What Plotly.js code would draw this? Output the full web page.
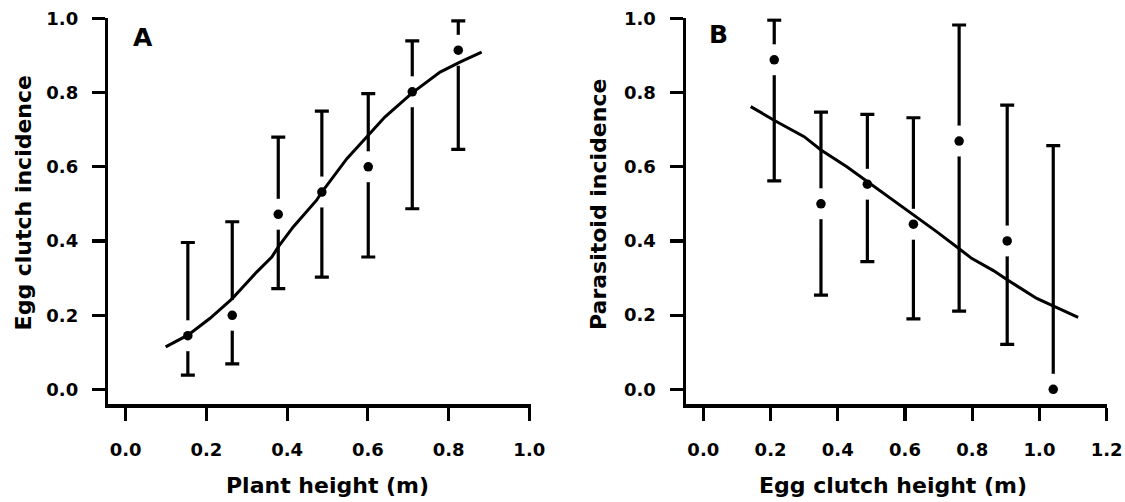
<!DOCTYPE html>
<html>
<head>
<meta charset="utf-8">
<script src="https://cdn.plot.ly/plotly-3.0.1.min.js"></script>
<style>html,body{margin:0;padding:0;background:#fff;}#chart{width:1125px;height:502px;}</style>
</head>
<body>
<div id="chart"></div>
<script>
// ---- Panel A: egg clutch incidence vs plant height ----
const plantHeight   = [0.154, 0.264, 0.378, 0.486, 0.601, 0.710, 0.824];
const clutchInc     = [0.145, 0.200, 0.472, 0.532, 0.600, 0.802, 0.914];
const clutchUpper   = [0.396, 0.452, 0.680, 0.750, 0.797, 0.939, 0.993];
const clutchLower   = [0.039, 0.069, 0.272, 0.303, 0.357, 0.487, 0.647];
const fitAx = [0.099,0.155,0.209,0.264,0.291,0.325,0.362,0.378,0.415,0.452,0.473,0.486,0.548,0.601,0.642,0.710,0.779,0.828,0.882];
const fitAy = [0.115,0.147,0.192,0.245,0.277,0.317,0.357,0.384,0.438,0.483,0.510,0.532,0.622,0.685,0.734,0.799,0.855,0.882,0.909];

// ---- Panel B: parasitoid incidence vs egg clutch height ----
const clutchHeight  = [0.211, 0.350, 0.488, 0.625, 0.761, 0.904, 1.041];
const parasitInc    = [0.888, 0.500, 0.553, 0.445, 0.669, 0.400, 0.000];
const parasitUpper  = [0.995, 0.747, 0.741, 0.732, 0.982, 0.766, 0.657];
const parasitLower  = [0.562, 0.254, 0.344, 0.190, 0.211, 0.121, 0.000];
const fitBx = [0.141,0.213,0.300,0.350,0.427,0.488,0.565,0.625,0.694,0.764,0.798,0.863,0.904,0.992,1.041,1.115];
const fitBy = [0.762,0.724,0.681,0.645,0.600,0.560,0.510,0.470,0.425,0.377,0.353,0.320,0.295,0.245,0.225,0.194];

const ticksA_x = [0, 0.2, 0.4, 0.6, 0.8, 1.0];
const ticksB_x = [0, 0.2, 0.4, 0.6, 0.8, 1.0, 1.2];
const ticksY   = [0, 0.2, 0.4, 0.6, 0.8, 1.0];

const W = 1125, H = 502;
const FONT = 'DejaVu Sans, Arial, sans-serif';

function panelTraces(xs, ys, up, lo, fx, fy, xa, ya) {
  return [
    { // error bars
      type: 'scatter', mode: 'markers', x: xs, y: ys, xaxis: xa, yaxis: ya,
      marker: {color: 'rgba(0,0,0,0)', size: 1},
      error_y: {type: 'data', symmetric: false,
        array: up.map((u, i) => u - ys[i]),
        arrayminus: lo.map((l, i) => ys[i] - l),
        color: '#000', thickness: 3.2, width: 7},
      cliponaxis: false, hoverinfo: 'skip'
    },
    { // white gap around points
      type: 'scatter', mode: 'markers', x: xs, y: ys, xaxis: xa, yaxis: ya,
      marker: {color: '#fff', size: 31, symbol: 'circle'},
      cliponaxis: false, hoverinfo: 'skip'
    },
    { // fitted curve
      type: 'scatter', mode: 'lines', x: fx, y: fy, xaxis: xa, yaxis: ya,
      line: {color: '#000', width: 3}, cliponaxis: false, hoverinfo: 'skip'
    },
    { // observed points
      type: 'scatter', mode: 'markers', x: xs, y: ys, xaxis: xa, yaxis: ya,
      marker: {color: '#000', size: 9.5}, cliponaxis: false
    }
  ];
}

const data = [
  ...panelTraces(plantHeight, clutchInc, clutchUpper, clutchLower, fitAx, fitAy, 'x', 'y'),
  ...panelTraces(clutchHeight, parasitInc, parasitUpper, parasitLower, fitBx, fitBy, 'x2', 'y2')
];

const common = {
  showgrid: false, zeroline: false, showline: true, linecolor: '#000', linewidth: 3.5,
  ticks: 'outside', ticklen: 13, tickwidth: 3.2, tickcolor: '#000',
  tickmode: 'array', tickformat: '.1f',
  tickfont: {family: FONT, size: 18, color: '#000', weight: 'bold'},
  fixedrange: true
};

const yDom = [1 - 404 / H, 1 - 18.3 / H];

const layout = {
  width: W, height: H,
  margin: {l: 0, r: 0, t: 0, b: 0, pad: 0},
  paper_bgcolor: '#fff', plot_bgcolor: '#fff',
  showlegend: false,
  xaxis: Object.assign({}, common, {domain: [108.3 / W, 531 / W], range: [-0.0431, 1.0042],
    tickvals: ticksA_x, anchor: 'y', ticklabelstandoff: 14}),
  yaxis: Object.assign({}, common, {domain: yDom, range: [-0.039, 1.0],
    tickvals: ticksY, anchor: 'x', ticklabelstandoff: 10}),
  xaxis2: Object.assign({}, common, {domain: [686 / W, 1106.7 / W], range: [-0.0515, 1.2],
    tickvals: ticksB_x, anchor: 'y2', ticklabelstandoff: 14}),
  yaxis2: Object.assign({}, common, {domain: yDom, range: [-0.0396, 1.0],
    tickvals: ticksY, anchor: 'x2', ticklabelstandoff: 10}),
  annotations: [
    {text: 'A', xref: 'paper', yref: 'paper', x: 142.5 / W, y: 1 - 37.5 / H,
     xanchor: 'center', yanchor: 'middle', showarrow: false,
     font: {family: FONT, size: 25, color: '#000', weight: 'bold'}},
    {text: 'B', xref: 'paper', yref: 'paper', x: 718.3 / W, y: 1 - 35 / H,
     xanchor: 'center', yanchor: 'middle', showarrow: false,
     font: {family: FONT, size: 25, color: '#000', weight: 'bold'}},
    {text: 'Plant height (m)', xref: 'paper', yref: 'paper', x: 327.5 / W, y: 1 - 485 / H,
     xanchor: 'center', yanchor: 'middle', showarrow: false,
     font: {family: FONT, size: 22, color: '#000', weight: 'bold'}},
    {text: 'Egg clutch height (m)', xref: 'paper', yref: 'paper', x: 893 / W, y: 1 - 485 / H,
     xanchor: 'center', yanchor: 'middle', showarrow: false,
     font: {family: FONT, size: 22, color: '#000', weight: 'bold'}},
    {text: 'Egg clutch incidence', xref: 'paper', yref: 'paper', x: 23 / W, y: 1 - 203.4 / H,
     xanchor: 'center', yanchor: 'middle', showarrow: false, textangle: -90,
     font: {family: FONT, size: 22, color: '#000', weight: 'bold'}},
    {text: 'Parasitoid incidence', xref: 'paper', yref: 'paper', x: 598 / W, y: 1 - 205 / H,
     xanchor: 'center', yanchor: 'middle', showarrow: false, textangle: -90,
     font: {family: FONT, size: 22, color: '#000', weight: 'bold'}}
  ]
};

Plotly.newPlot('chart', data, layout, {displayModeBar: false, staticPlot: true});
</script>
</body>
</html>
